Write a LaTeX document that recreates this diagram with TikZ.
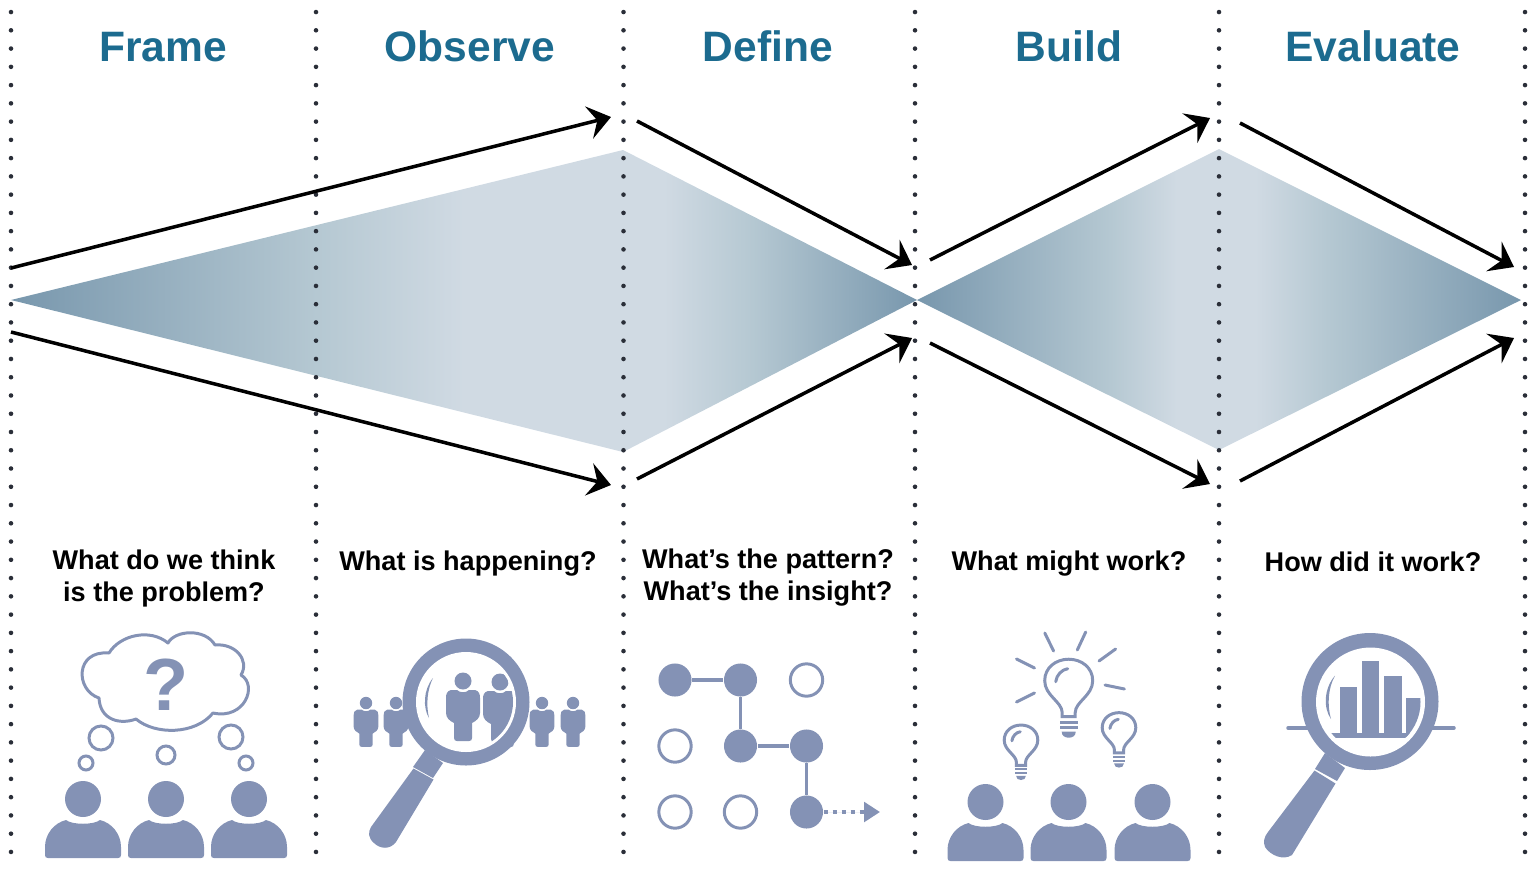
\documentclass[tikz,border=0pt]{standalone}
\usepackage{fontspec}
\setmainfont{Liberation Sans}
\usetikzlibrary{arrows.meta}

\definecolor{headblue}{HTML}{1C6B8F}
\definecolor{iconblue}{HTML}{8492B5}
\definecolor{fandark}{HTML}{7897AD}
\definecolor{fanmid}{HTML}{B5C8D2}
\definecolor{fanlight}{HTML}{D0DAE3}
\definecolor{dotgrey}{HTML}{2A2E38}

\pgfdeclarehorizontalshading{frameshade}{100bp}{color(0bp)=(fandark); color(25bp)=(fandark); color(50bp)=(fanmid); color(62bp)=(fanlight); color(100bp)=(fanlight)}
\pgfdeclarehorizontalshading{defineshade}{100bp}{color(0bp)=(fanlight); color(32bp)=(fanlight); color(47bp)=(fanmid); color(75bp)=(fandark); color(100bp)=(fandark)}
\pgfdeclarehorizontalshading{buildshade}{100bp}{color(0bp)=(fandark); color(25bp)=(fandark); color(57bp)=(fanmid); color(68bp)=(fanlight); color(100bp)=(fanlight)}
\pgfdeclarehorizontalshading{evalshade}{100bp}{color(0bp)=(fanlight); color(31bp)=(fanlight); color(43bp)=(fanmid); color(75bp)=(fandark); color(100bp)=(fandark)}

\begin{document}
\begin{tikzpicture}[
  x=0.01cm, y=-0.01cm,
  title/.style={font=\fontsize{12.1}{14}\selectfont\bfseries, text=headblue, inner sep=0pt},
  ask/.style={font=\fontsize{7.7}{9.1}\selectfont\bfseries, align=center, inner sep=0pt},
  icon/.style={fill=iconblue},
  iconline/.style={draw=iconblue, line width=0.85pt},
  flow/.style={line width=1pt, -{Stealth[length=6.4pt, width=9.4pt, inset=2.4pt]}},
  dots/.style={draw=dotgrey, line width=1.3pt, line cap=round, dash pattern=on 0pt off 5.192pt},
  dotfull/.style={circle, icon, minimum size=9.4pt, inner sep=0pt},
  dotopen/.style={circle, iconline, fill=white, minimum size=9.2pt, inner sep=0pt},
  person/.pic={
    \fill[icon] (0,0) circle (18);
    \fill[icon] (-35,59) .. controls (-37,59) and (-38,58) .. (-38,56) -- (-38,48)
      .. controls (-38,35) and (-29,24) .. (-17,21) .. controls (-11,26) and (11,26) .. (17,21)
      .. controls (29,24) and (38,35) .. (38,48) -- (38,56) .. controls (38,58) and (37,59) .. (35,59) -- cycle;
  },
  figure/.pic={
    \fill[icon] (0,0) circle (8.5);
    \fill[icon] (-6,9) .. controls (-3,12) and (3,12) .. (6,9) -- (12,9)
      .. controls (16,10) and (17,13) .. (17,17) -- (17,32) .. controls (17,37) and (13,40) .. (9,42)
      -- (9,57) .. controls (9,59) and (8,60) .. (6,60) -- (-6,60) .. controls (-8,60) and (-9,59) .. (-9,57)
      -- (-9,42) .. controls (-13,40) and (-17,37) .. (-17,32) -- (-17,17)
      .. controls (-17,13) and (-16,10) .. (-12,9) -- cycle;
  },
  bulb/.pic={
    \draw[iconline] (-6.5,35) -- (-6.5,31) .. controls (-6.5,20) and (-24,14) .. (-24,-1)
      .. controls (-24,-14) and (-13,-22.5) .. (0,-22.5) .. controls (13,-22.5) and (24,-14) .. (24,-1)
      .. controls (24,14) and (6.5,20) .. (6.5,31) -- (6.5,35) -- cycle;
    \draw[iconline, line cap=round] (-1,-13) .. controls (-7,-12) and (-12,-7) .. (-13,0);
    \fill[icon] (-9,39) rectangle (9,42);
    \fill[icon] (-9,44.5) rectangle (9,47.5);
    \fill[icon] (-7,50) -- (7,50) .. controls (7,54) and (4,56) .. (0,56) .. controls (-4,56) and (-7,54) .. (-7,50) -- cycle;
  }
]
  \useasboundingbox (0,0) rectangle (1536,872);

  % fan shapes
  \coordinate (tipa) at (11,300);
  \coordinate (tipb) at (917,300);
  \coordinate (tipc) at (1521,300);
  \coordinate (topa) at (623,150);
  \coordinate (lowa) at (623,452);
  \coordinate (topb) at (1219,149);
  \coordinate (lowb) at (1219,450);
  \shade[shading=frameshade] (tipa) -- (topa) -- (lowa) -- cycle;
  \shade[shading=defineshade] (topa) -- (tipb) -- (lowa) -- cycle;
  \shade[shading=buildshade] (tipb) -- (topb) -- (lowb) -- cycle;
  \shade[shading=evalshade] (topb) -- (tipc) -- (lowb) -- cycle;

  % column separators
  \foreach \colx in {11,316,623.5,915,1219,1525}
    \draw[dots] (\colx,12.05) -- (\colx,853);

  % column titles
  \node[title] (tframe) at (163,47) {Frame};
  \node[title] (tobserve) at (470,46.5) {Observe};
  \node[title] (tdefine) at (768,46.5) {Define};
  \node[title] (tbuild) at (1069,46.5) {Build};
  \node[title] (tevaluate) at (1373,46.5) {Evaluate};

  % flow arrows
  \coordinate (a1s) at (11,268);   \coordinate (a1e) at (611,117);
  \coordinate (a2s) at (11,332);   \coordinate (a2e) at (611,485);
  \coordinate (a3s) at (637,121);  \coordinate (a3e) at (912,265);
  \coordinate (a4s) at (637,479);  \coordinate (a4e) at (912,338);
  \coordinate (a5s) at (930,260);  \coordinate (a5e) at (1210,118);
  \coordinate (a6s) at (930,343);  \coordinate (a6e) at (1210,484);
  \coordinate (a7s) at (1240,123); \coordinate (a7e) at (1514,267);
  \coordinate (a8s) at (1240,481); \coordinate (a8e) at (1514,338);
  \foreach \arrowid in {1,...,8}
    \draw[flow] (a\arrowid s) -- (a\arrowid e);

  % questions
  \node[ask] (qframe) at (164,578) {What do we think\\is the problem?};
  \node[ask] (qobserve) at (468,564) {What is happening?};
  \node[ask] (qdefine) at (768,578) {What’s the pattern?\\What’s the insight?};
  \node[ask] (qbuild) at (1069,564) {What might work?};
  \node[ask] (qevaluate) at (1373,561.5) {How did it work?};

  % frame icon
  \pic at (83,799) {person};
  \pic at (166,799) {person};
  \pic at (249,799) {person};
  \draw[iconline, line join=round] (109,653) .. controls (120,635) and (150,628) .. (168,643)
    .. controls (175,630) and (205,628) .. (215,645) .. controls (235,643) and (250,660) .. (241,675)
    .. controls (258,685) and (245,720) .. (213,713) .. controls (195,735) and (155,735) .. (136,719)
    .. controls (120,725) and (100,720) .. (99,698) .. controls (75,690) and (75,650) .. (109,653) -- cycle;
  \node[font=\fontsize{21}{24}\selectfont\bfseries, text=iconblue, inner sep=0pt] (qmark) at (166,685) {?};
  \draw[iconline] (101,738) circle (12);
  \draw[iconline] (231,737) circle (12);
  \draw[iconline] (166,755) circle (9);
  \draw[iconline] (86,763) circle (7);
  \draw[iconline] (246,763) circle (7);

  % observe icon
  \pic[scale=0.73] at (366,703) {figure};
  \pic[scale=0.73] at (396,703) {figure};
  \pic[scale=0.73] at (507,703) {figure};
  \pic[scale=0.73] at (542,703) {figure};
  \pic[scale=0.73] at (573,703) {figure};
  \fill[icon] (425,750) -- (443,763) -- (433,778) -- (413,767) -- cycle;
  \fill[icon] (413.5,768.5) -- (433.5,779.5) -- (396,842) .. controls (390,850) and (380,849) .. (374,843)
    .. controls (368,838) and (368,832) .. (371,827) -- cycle;
  \fill[icon] (466,702) circle (63.5);
  \fill[white] (466,702) circle (50);
  \pic at (463,681) {figure};
  \begin{scope}
    \clip (466,702) circle (47);
    \pic at (500,682) {figure};
  \end{scope}
  \fill[icon] (433,678) .. controls (423,690) and (423,708) .. (429,718) .. controls (426,705) and (427,690) .. (433,678) -- cycle;

  % define icon
  \node[dotfull] (n11) at (675,680) {};
  \node[dotfull] (n21) at (740.5,680) {};
  \node[dotopen] (n31) at (806.5,680) {};
  \node[dotopen] (n12) at (675,746) {};
  \node[dotfull] (n22) at (740.5,746) {};
  \node[dotfull] (n32) at (806.5,746) {};
  \node[dotopen] (n13) at (675,812) {};
  \node[dotopen] (n23) at (740.5,812) {};
  \node[dotfull] (n33) at (806.5,812) {};
  \coordinate (nout) at (880,812);
  \draw[iconline, line width=1pt] (n11) -- (n21);
  \draw[iconline, line width=1pt] (n21) -- (n22);
  \draw[iconline, line width=1pt] (n22) -- (n32);
  \draw[iconline, line width=1pt] (n32) -- (n33);
  \draw[draw=iconblue, fill=iconblue, line width=1.1pt, dash pattern=on 1.25pt off 1.3pt, -{Triangle[length=4.5pt, width=5.5pt]}] (n33) -- (nout);

  % build icon
  \pic at (985.5,802) {person};
  \pic at (1068.5,802) {person};
  \pic at (1152.5,802) {person};
  \pic at (1068.7,681.7) {bulb};
  \pic[scale=0.7] at (1021,740.8) {bulb};
  \pic[scale=0.7] at (1119,728.4) {bulb};
  \draw[iconline, line cap=round] (1044.8,633) -- (1053.6,651);
  \draw[iconline, line cap=round] (1085.7,632) -- (1077.3,650);
  \draw[iconline, line cap=round] (1115.6,649) -- (1099,661);
  \draw[iconline, line cap=round] (1016.5,659) -- (1034.5,668);
  \draw[iconline, line cap=round] (1105,685) -- (1124.4,689);
  \draw[iconline, line cap=round] (1016.5,702) -- (1034.5,693);

  % evaluate icon
  \draw[iconline, line width=1pt, line cap=round] (1288,728) -- (1454,728);
  \fill[icon] (1325,753) -- (1345,768) -- (1337,781) -- (1315,769) -- cycle;
  \fill[icon] (1314.5,770.5) -- (1335.5,783.5) -- (1292,855) .. controls (1283,861) and (1270,855) .. (1265,847)
    .. controls (1263,842) and (1264,837) .. (1268,832) -- cycle;
  \fill[icon] (1370,701.5) circle (68.5);
  \fill[white] (1370.5,702) circle (54.5);
  \begin{scope}
    \clip (1370.5,702) circle (50);
    \fill[icon] (1340,686.7) rectangle (1357.3,738.3);
    \fill[icon] (1362,660.7) rectangle (1379.3,738.3);
    \fill[icon] (1384,675.7) rectangle (1401.7,738.3);
    \fill[icon] (1406,698) rectangle (1425,738.3);
    \fill[icon] (1320,733) rectangle (1425,738.3);
  \end{scope}
  \fill[icon] (1335,675.7) .. controls (1324,688) and (1323,708) .. (1331,719) .. controls (1327,705) and (1328,688) .. (1335,675.7) -- cycle;
\end{tikzpicture}
\end{document}
